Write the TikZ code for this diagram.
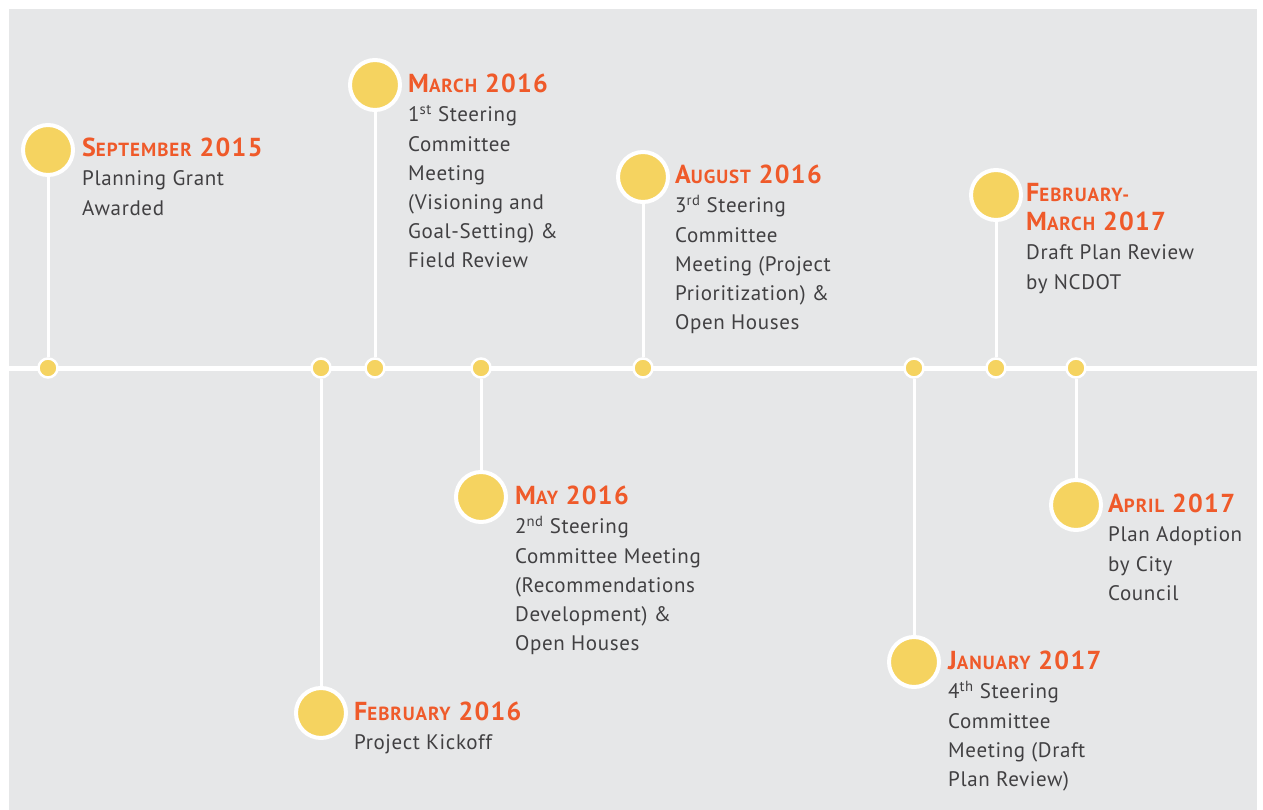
\documentclass[tikz,border=0pt]{standalone}
\usepackage{fontspec}
\setmainfont{PT Sans}[LetterSpace=3]
\newfontfamily\headfont{PT Sans}[LetterSpace=5]
\usetikzlibrary{arrows}

\definecolor{panelgray}{HTML}{E6E7E8}
\definecolor{dotyellow}{HTML}{F5D360}
\definecolor{datered}{HTML}{EF5A2A}
\definecolor{notegray}{HTML}{414042}

% month heading in small capitals
\newcommand{\datehead}[3]{{\color{datered}\headfont\bfseries\fontsize{26}{29}\selectfont #1{\fontsize{19}{29}\selectfont #2}#3}}

\begin{document}
\begin{tikzpicture}[x=1pt,y=-1pt]
            \tikzset{dot/.style = {shape=circle, draw=white, line width=2.5pt, fill=dotyellow, minimum size=19pt, inner sep=0pt}}
            \tikzset{bigdot/.style = {shape=circle, draw=white, line width=4pt, fill=dotyellow, minimum size=50pt, inner sep=0pt}}
            \tikzset{stem/.style = {draw=white, line width=3pt, -}}
            \tikzset{note/.style = {anchor=north west, align=left, inner sep=0pt, text=notegray, font=\fontsize{21}{29.2}\selectfont}}
            \useasboundingbox (0,0) rectangle (1263,810);
            \fill[panelgray] (9,9) rectangle (1257,810);
            % timeline
            \coordinate (lstart) at (9,368);
            \coordinate (lend) at (1257,368);
            \draw[white, line width=5pt] (lstart) -- (lend);
            % dots on the line
            \node[dot] (d1) at (48,368) {};
            \node[dot] (d2) at (321,368) {};
            \node[dot] (d3) at (375,368) {};
            \node[dot] (d4) at (481,368) {};
            \node[dot] (d5) at (643,368) {};
            \node[dot] (d6) at (914,368) {};
            \node[dot] (d7) at (996,368) {};
            \node[dot] (d8) at (1076,368) {};
            % events
            \node[bigdot] (e1) at (48,150) {};
            \node[bigdot] (e2) at (321,713) {};
            \node[bigdot] (e3) at (375,85) {};
            \node[bigdot] (e4) at (481,497) {};
            \node[bigdot] (e5) at (643,177) {};
            \node[bigdot] (e6) at (914,662) {};
            \node[bigdot] (e7) at (996,195) {};
            \node[bigdot] (e8) at (1076,505) {};
            % stems
            \draw[stem] (d1) to (e1);
            \draw[stem] (d2) to (e2);
            \draw[stem] (d3) to (e3);
            \draw[stem] (d4) to (e4);
            \draw[stem] (d5) to (e5);
            \draw[stem] (d6) to (e6);
            \draw[stem] (d7) to (e7);
            \draw[stem] (d8) to (e8);
            % texts
            \node[note] (t1) at (82,138) {\datehead{S}{EPTEMBER}{ 2015}\\Planning Grant\\Awarded};
            \node[note] (t2) at (354,702) {\datehead{F}{EBRUARY}{ 2016}\\Project Kickoff};
            \node[note] (t3) at (408,74) {\datehead{M}{ARCH}{ 2016}\\1\textsuperscript{st} Steering\\Committee\\Meeting\\(Visioning and\\Goal-Setting) \&\\Field Review};
            \node[note] (t4) at (515,486) {\datehead{M}{AY}{ 2016}\\2\textsuperscript{nd} Steering\\Committee Meeting\\(Recommendations\\Development) \&\\Open Houses};
            \node[note] (t5) at (675,165) {\datehead{A}{UGUST}{ 2016}\\3\textsuperscript{rd} Steering\\Committee\\Meeting (Project\\Prioritization) \&\\Open Houses};
            \node[note] (t6) at (948,651) {\datehead{J}{ANUARY}{ 2017}\\4\textsuperscript{th} Steering\\Committee\\Meeting (Draft\\Plan Review)};
            \node[note] (t7) at (1026,183) {\datehead{F}{EBRUARY-}{}\\\datehead{M}{ARCH}{ 2017}\\Draft Plan Review\\by NCDOT};
            \node[note] (t8) at (1108,494) {\datehead{A}{PRIL}{ 2017}\\Plan Adoption\\by City\\Council};
        \end{tikzpicture}
\end{document}
